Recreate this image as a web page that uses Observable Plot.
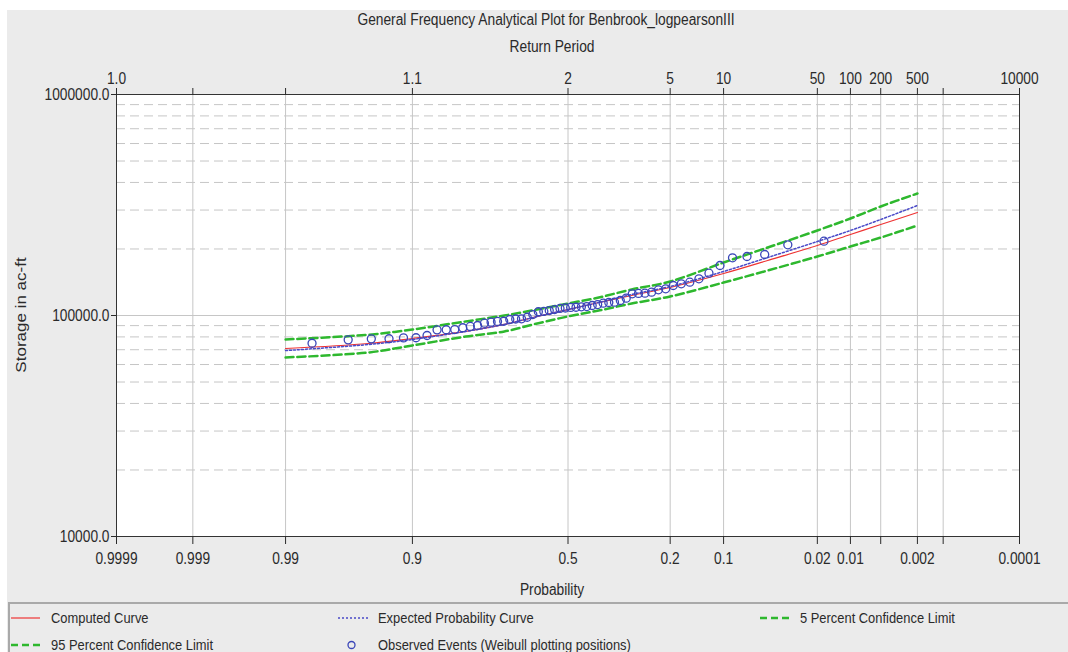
<!DOCTYPE html>
<html>
<head>
<meta charset="utf-8">
<script src="https://cdn.jsdelivr.net/npm/d3@7"></script>
<script src="https://cdn.jsdelivr.net/npm/@observablehq/plot@0.6"></script>
<style>
  html, body { margin: 0; padding: 0; background: #ffffff; }
  body { width: 1068px; height: 652px; overflow: hidden; position: relative;
         font-family: "Liberation Sans", Arial, sans-serif; color: #2a2a2a; }
  #panel { position: absolute; left: 7px; top: 10px; right: 0; bottom: 0; background: #ebebeb; }
  #chart { position: absolute; left: 0; top: 0; }
  .ctext { position: absolute; white-space: nowrap; font-size: 16px; line-height: 16px;
           transform: translateX(-50%) scaleX(0.86); transform-origin: center; }
  #ytitle { position: absolute; left: 21px; top: 315px; white-space: nowrap; font-size: 17px; line-height: 17px;
            transform: translate(-50%, -50%) rotate(-90deg) scaleY(0.86); }
  #legend { position: absolute; left: 8px; top: 602px; width: 1100px; height: 60px;
            border-top: 2px solid #a9a9a9; border-left: 2px solid #a9a9a9; background: #ebebeb; }
  .ltext { position: absolute; white-space: nowrap; font-size: 15px; line-height: 15px;
           transform: scaleX(0.86); transform-origin: left center; }
  #lsvg { position: absolute; left: 0; top: 0; }
</style>
</head>
<body>
<div id="panel"></div>
<div id="chart"></div>
<div class="ctext" style="left:546px; top:12px;">General Frequency Analytical Plot for Benbrook_logpearsonIII</div>
<div class="ctext" style="left:552px; top:39px;">Return Period</div>
<div class="ctext" style="left:552px; top:582px;">Probability</div>
<div id="ytitle">Storage in ac-ft</div>
<div id="legend"></div>
<svg id="lsvg" width="1068" height="652">
  <line x1="11" x2="40" y1="618" y2="618" stroke="#ee3333" stroke-width="1.2"/>
  <line x1="338" x2="369" y1="618" y2="618" stroke="#4a4ac8" stroke-width="1.5" stroke-dasharray="2,2"/>
  <line x1="760" x2="790" y1="618" y2="618" stroke="#2eb82e" stroke-width="2.5" stroke-dasharray="7,4"/>
  <line x1="11" x2="40" y1="645" y2="645" stroke="#2eb82e" stroke-width="2.5" stroke-dasharray="7,4"/>
  <circle cx="351.5" cy="645" r="3.5" fill="none" stroke="#3a46b8" stroke-width="1.3"/>
</svg>
<div class="ltext" style="left:51px; top:610px;">Computed Curve</div>
<div class="ltext" style="left:378px; top:610px;">Expected Probability Curve</div>
<div class="ltext" style="left:800px; top:610px;">5 Percent Confidence Limit</div>
<div class="ltext" style="left:51px; top:637px;">95 Percent Confidence Limit</div>
<div class="ltext" style="left:378px; top:637px;">Observed Events (Weibull plotting positions)</div>

<script>
// ---------- data (exceedance probability / storage in ac-ft) ----------
const curveProb = [0.99, 0.95, 0.9, 0.8, 0.7, 0.6, 0.5, 0.4, 0.3, 0.2, 0.1, 0.05, 0.02, 0.01, 0.005, 0.002];
const computedCurve = [70900, 74700, 78700, 84700, 91100, 99000, 106400, 114500, 123200, 133900, 154900, 177400, 207400, 232600, 258100, 292400];
const expectedCurve = [69400, 73900, 77900, 84700, 91100, 99000, 106400, 114500, 124500, 135300, 158200, 183000, 216200, 242500, 271900, 314600];
const limit5 = [77900, 81800, 86400, 94000, 100000, 106400, 113300, 120600, 131200, 142500, 173700, 203100, 242500, 274800, 311400, 356500];
const limit95 = [64600, 68000, 73200, 80300, 84700, 92000, 99000, 105300, 113300, 121900, 141000, 159800, 184900, 205200, 225300, 255400];

const obsProb = [0.0175, 0.0351, 0.0526, 0.0702, 0.0877, 0.1053, 0.1228, 0.1404, 0.1579, 0.1754,
                 0.1930, 0.2105, 0.2281, 0.2456, 0.2632, 0.2807, 0.2982, 0.3158, 0.3333, 0.3509,
                 0.3684, 0.3860, 0.4035, 0.4211, 0.4386, 0.4561, 0.4737, 0.4912, 0.5088, 0.5263,
                 0.5439, 0.5614, 0.5789, 0.5965, 0.6140, 0.6316, 0.6491, 0.6667, 0.6842, 0.7018,
                 0.7193, 0.7368, 0.7544, 0.7719, 0.7895, 0.8070, 0.8246, 0.8421, 0.8596, 0.8772,
                 0.8947, 0.9123, 0.9298, 0.9474, 0.9649, 0.9825];
const obsStorage = [216900, 208900, 188800, 184900, 182400, 168400, 155400, 146600, 141500, 139100,
                    136700, 132100, 130700, 127500, 126200, 125800, 125400, 119800, 116900, 114900,
                    114500, 113700, 112100, 111000, 109800, 109500, 109000, 108800, 108100, 107600,
                    106400, 105300, 104300, 104000, 101000, 98200, 96600, 96400, 95900, 94200,
                    94000, 93300, 92300, 90100, 89200, 88000, 86400, 86200, 86100, 81200,
                    79300, 79200, 78500, 78400, 77600, 74900];

const probTicks = [0.9999, 0.999, 0.99, 0.9, 0.5, 0.2, 0.1, 0.02, 0.01, 0.005, 0.002, 0.001, 0.0001];
const probLabels = ["0.9999", "0.999", "0.99", "0.9", "0.5", "0.2", "0.1", "0.02", "0.01", "", "0.002", "", "0.0001"];
const returnLabels = ["1.0", "", "", "1.1", "2", "5", "10", "50", "100", "200", "500", "", "10000"];
const yTicks = [10000, 100000, 1000000];
const yDashed = [20000, 30000, 40000, 50000, 60000, 70000, 80000, 90000,
                 200000, 300000, 400000, 500000, 600000, 700000, 800000, 900000];

// ---------- normal probability coordinate (inverse normal CDF, Acklam) ----------
function qnorm(p) {
  const a = [-3.969683028665376e+01, 2.209460984245205e+02, -2.759285104469687e+02, 1.383577518672690e+02, -3.066479806614716e+01, 2.506628277459239e+00];
  const b = [-5.447609879822406e+01, 1.615858368580409e+02, -1.556989798598866e+02, 6.680131188771972e+01, -1.328068155288572e+01];
  const c = [-7.784894002430293e-03, -3.223964580411365e-01, -2.400758277161838e+00, -2.549671010366643e+00, 4.374664141464968e+00, 2.938163982698783e+00];
  const d = [7.784695709041462e-03, 3.224671290700398e-01, 2.445134137142996e+00, 3.754408661907416e+00];
  const pl = 0.02425, ph = 1 - pl;
  let q, r;
  if (p < pl) {
    q = Math.sqrt(-2 * Math.log(p));
    return (((((c[0]*q+c[1])*q+c[2])*q+c[3])*q+c[4])*q+c[5]) / ((((d[0]*q+d[1])*q+d[2])*q+d[3])*q+1);
  }
  if (p > ph) {
    q = Math.sqrt(-2 * Math.log(1 - p));
    return -(((((c[0]*q+c[1])*q+c[2])*q+c[3])*q+c[4])*q+c[5]) / ((((d[0]*q+d[1])*q+d[2])*q+d[3])*q+1);
  }
  q = p - 0.5; r = q * q;
  return (((((a[0]*r+a[1])*r+a[2])*r+a[3])*r+a[4])*r+a[5])*q / (((((b[0]*r+b[1])*r+b[2])*r+b[3])*r+b[4])*r+1);
}
const zOf = p => -qnorm(p);   // exceedance probability -> standard normal coordinate
const zTicks = probTicks.map(p => zOf(p));

const toRows = (vals) => curveProb.map((p, i) => ({p, v: vals[i]}));
const obs = obsProb.map((p, i) => ({p, v: obsStorage[i]}));

const gridColor = "#c6c6c6";
const green = "#2eb82e";

const chart = Plot.plot({
  width: 1068,
  height: 652,
  marginTop: 94,
  marginBottom: 116,
  marginLeft: 116,
  marginRight: 49,
  style: {background: "transparent", fontFamily: "'Liberation Sans', Arial, sans-serif", fontSize: "16px", color: "#2a2a2a", overflow: "visible"},
  x: {domain: [zOf(probTicks[0]), zOf(probTicks[probTicks.length - 1])]},
  y: {type: "log", domain: [10000, 1000000]},
  marks: [
    Plot.frame({fill: "white", stroke: null}),
    Plot.ruleY(yDashed, {stroke: gridColor, strokeWidth: 1, strokeDasharray: "9,5"}),
    Plot.ruleY([100000], {stroke: gridColor, strokeWidth: 1}),
    Plot.ruleX(probTicks, {x: p => zOf(p), stroke: gridColor, strokeWidth: 1}),
    Plot.line(toRows(limit5), {x: d => zOf(d.p), y: "v", stroke: green, strokeWidth: 2.5, strokeDasharray: "8,4", curve: "catmull-rom"}),
    Plot.line(toRows(limit95), {x: d => zOf(d.p), y: "v", stroke: green, strokeWidth: 2.5, strokeDasharray: "8,4", curve: "catmull-rom"}),
    Plot.line(toRows(computedCurve), {x: d => zOf(d.p), y: "v", stroke: "#ee3333", strokeWidth: 1.2, curve: "catmull-rom"}),
    Plot.line(toRows(expectedCurve), {x: d => zOf(d.p), y: "v", stroke: "#4a4ac8", strokeWidth: 1.5, strokeDasharray: "2,2", curve: "catmull-rom"}),
    Plot.dot(obs, {x: d => zOf(d.p), y: "v", r: 4, stroke: "#3a46b8", strokeWidth: 1.3, fill: "none"}),
    Plot.frame({stroke: "#333333", strokeWidth: 1}),
    Plot.axisY({ticks: yTicks, tickFormat: d => d.toFixed(1), tickSize: 5, tickPadding: 2, label: null}),
    Plot.axisX({anchor: "bottom", ticks: zTicks, tickFormat: z => probLabels[zTicks.indexOf(z)], tickSize: 8, tickPadding: 8, label: null}),
    Plot.axisX({anchor: "top", ticks: zTicks, tickFormat: z => returnLabels[zTicks.indexOf(z)], tickSize: 7, tickPadding: 4, label: null})
  ]
});
document.getElementById("chart").appendChild(chart);

// horizontally condensed lettering, as in the reference
chart.querySelectorAll("text").forEach(t => {
  const x = +(t.getAttribute("x") || 0);
  const tr = t.getAttribute("transform") || "";
  t.setAttribute("transform", `${tr} translate(${x},0) scale(0.86,1) translate(${-x},0)`);
});
</script>
</body>
</html>
